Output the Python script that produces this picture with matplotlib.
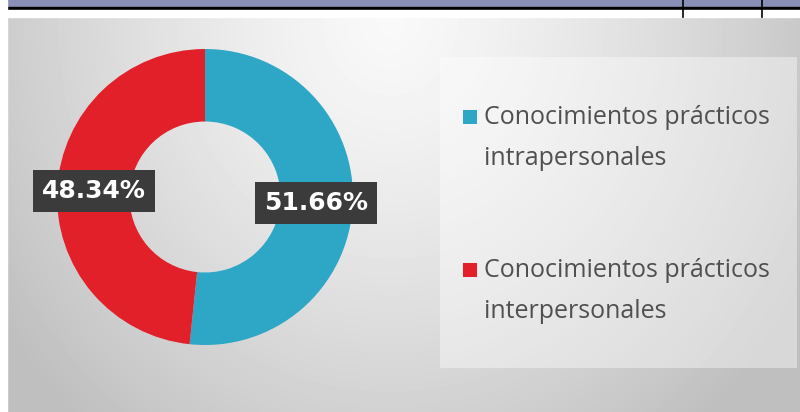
import numpy as np
import matplotlib
matplotlib.use("Agg")
import matplotlib.pyplot as plt
from matplotlib.patches import Rectangle

# chart data
labels = ["Conocimientos prácticos\nintrapersonales",
          "Conocimientos prácticos\ninterpersonales"]
values = [51.66, 48.34]
colors = ["#2ea6c6", "#e2202a"]

W, H = 800, 412
fig = plt.figure(figsize=(W / 100, H / 100), dpi=100)

# background gradient (light at top centre, grey towards edges)
bg = fig.add_axes([0, 0, 1, 1])
yy, xx = np.mgrid[0:H, 0:W]
d = np.sqrt(((xx - 390) / 430.0) ** 2 + ((yy - 20) / 480.0) ** 2)
shade = 0.975 - 0.2 * np.clip(d, 0, 1.1) ** 1.3
bg.imshow(shade, cmap="gray", vmin=0, vmax=1, extent=[0, W, H, 0], aspect="auto",
          interpolation="bilinear")
bg.set_xlim(0, W)
bg.set_ylim(H, 0)
bg.axis("off")

# document frame bits at top / left
bg.add_patch(Rectangle((0, 0), W, 7, color="#8a8fb8"))
bg.add_patch(Rectangle((0, 7), W, 3, color="black"))
bg.add_patch(Rectangle((0, 10), W, 7, color="white"))
bg.add_patch(Rectangle((0, 0), 7, H, color="white"))
for x in [683, 762]:
    bg.plot([x, x], [0, 17], color="black", lw=1.2)

# legend panel
bg.add_patch(Rectangle((440, 57), 357, 311, color="white", alpha=0.4, lw=0))

# donut
cx, cy, r = 205, 197, 148
ax = fig.add_axes([(cx - r) / W, (H - cy - r) / H, 2 * r / W, 2 * r / H])
wedges, texts, autotexts = ax.pie(values, colors=colors, startangle=90, counterclock=False,
                                  radius=1, wedgeprops=dict(width=0.49, linewidth=0),
                                  autopct="%.2f%%", pctdistance=0.75)
for t in autotexts:
    t.set_color("white")
    t.set_fontsize(18)
    t.set_fontweight("bold")
    t.set_bbox(dict(boxstyle="square,pad=0.35", facecolor="#3b3b3b", edgecolor="none"))
ax.set_xlim(-1, 1)
ax.set_ylim(-1, 1)
ax.set_aspect("auto")
ax.axis("off")

# legend entries
legend_y = [110, 263]
for lab, col, y in zip(labels, colors, legend_y):
    bg.add_patch(Rectangle((463, y), 14, 14, color=col, lw=0))
    bg.text(484, y - 5, lab, fontsize=18, color="#505050", family="Open Sans",
            va="top", ha="left", linespacing=1.85)

fig.savefig("out.png", dpi=100)
